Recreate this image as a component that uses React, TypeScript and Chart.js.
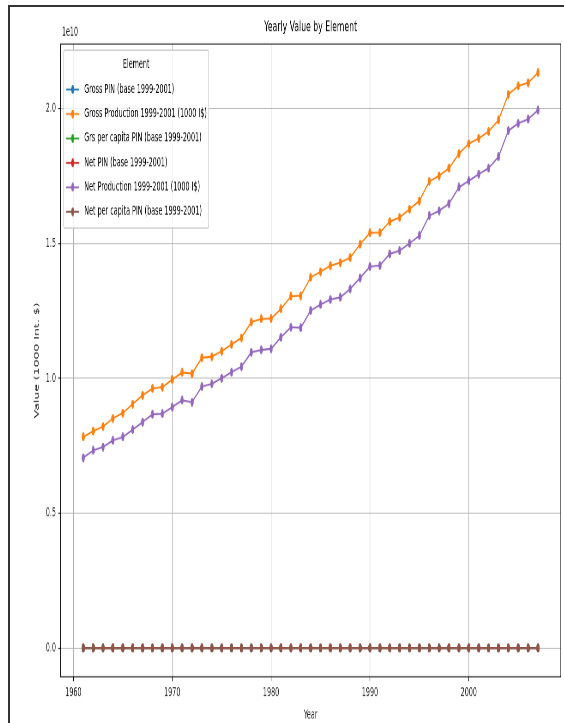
import React, { useEffect, useRef } from 'react';
import { Chart, registerables } from 'chart.js';

Chart.register(...registerables);

// ---- data -------------------------------------------------------------
const YEARS = [
  1961, 1962, 1963, 1964, 1965, 1966, 1967, 1968, 1969, 1970,
  1971, 1972, 1973, 1974, 1975, 1976, 1977, 1978, 1979, 1980,
  1981, 1982, 1983, 1984, 1985, 1986, 1987, 1988, 1989, 1990,
  1991, 1992, 1993, 1994, 1995, 1996, 1997, 1998, 1999, 2000,
  2001, 2002, 2003, 2004, 2005, 2006, 2007,
];

const GROSS_PIN = [
  41.9, 43.2, 44.1, 45.7, 46.8, 48.5, 50.3, 51.6, 51.9, 53.4,
  54.8, 54.6, 57.7, 58.0, 59.0, 60.4, 61.7, 64.8, 65.5, 65.5,
  67.5, 70.0, 70.1, 73.7, 74.9, 76.0, 76.7, 77.6, 80.3, 82.6,
  82.6, 84.8, 85.6, 87.3, 88.9, 92.8, 93.9, 95.4, 98.3, 100.3,
  101.4, 102.7, 105.0, 110.1, 111.8, 112.4, 114.4,
];

const GROSS_PRODUCTION = [
  7.83e9, 8.05e9, 8.22e9, 8.52e9, 8.72e9, 9.05e9, 9.38e9, 9.63e9, 9.68e9, 9.96e9,
  10.22e9, 10.18e9, 10.77e9, 10.81e9, 11.01e9, 11.26e9, 11.51e9, 12.09e9, 12.21e9, 12.22e9,
  12.58e9, 13.05e9, 13.07e9, 13.75e9, 13.96e9, 14.18e9, 14.30e9, 14.48e9, 14.98e9, 15.40e9,
  15.41e9, 15.82e9, 15.97e9, 16.28e9, 16.59e9, 17.31e9, 17.52e9, 17.80e9, 18.34e9, 18.71e9,
  18.91e9, 19.16e9, 19.58e9, 20.54e9, 20.85e9, 20.97e9, 21.34e9,
];

const GRS_PER_CAPITA_PIN = [
  82.0, 82.8, 82.7, 83.8, 84.1, 85.3, 86.6, 87.1, 85.9, 86.6,
  87.1, 85.1, 88.3, 87.0, 87.1, 87.4, 87.5, 90.0, 89.2, 88.1,
  89.1, 90.6, 89.0, 92.0, 91.8, 91.6, 90.8, 90.1, 91.8, 93.0,
  91.7, 92.2, 91.9, 92.3, 92.6, 95.4, 95.2, 95.6, 97.2, 98.3,
  98.1, 98.0, 99.3, 102.8, 103.2, 102.6, 103.5,
];

const NET_PIN = [
  40.7, 42.3, 43.0, 44.4, 45.2, 46.7, 48.4, 50.0, 50.1, 51.6,
  53.0, 52.6, 56.0, 56.5, 57.8, 59.0, 60.2, 63.3, 63.8, 64.0,
  66.5, 68.7, 68.5, 72.2, 73.5, 74.6, 75.1, 76.9, 79.2, 81.6,
  81.9, 84.4, 85.1, 86.6, 88.3, 92.6, 93.6, 95.2, 98.6, 100.0,
  101.4, 102.7, 105.1, 110.7, 112.3, 113.2, 115.1,
];

const NET_PRODUCTION = [
  7.06e9, 7.33e9, 7.46e9, 7.70e9, 7.83e9, 8.10e9, 8.38e9, 8.67e9, 8.69e9, 8.94e9,
  9.19e9, 9.12e9, 9.70e9, 9.80e9, 10.01e9, 10.23e9, 10.44e9, 10.97e9, 11.06e9, 11.10e9,
  11.53e9, 11.90e9, 11.88e9, 12.52e9, 12.74e9, 12.93e9, 13.01e9, 13.32e9, 13.73e9, 14.15e9,
  14.19e9, 14.62e9, 14.74e9, 15.01e9, 15.30e9, 16.04e9, 16.22e9, 16.49e9, 17.09e9, 17.33e9,
  17.58e9, 17.80e9, 18.22e9, 19.19e9, 19.46e9, 19.62e9, 19.95e9,
];

const NET_PER_CAPITA_PIN = [
  80.1, 81.1, 80.7, 81.5, 81.3, 82.2, 83.4, 84.4, 82.9, 83.8,
  84.3, 82.0, 85.7, 84.9, 85.5, 85.5, 85.5, 88.0, 87.0, 86.1,
  87.9, 88.9, 87.0, 90.2, 90.1, 89.9, 88.9, 89.3, 90.5, 91.8,
  91.0, 91.8, 91.4, 91.6, 92.0, 95.2, 94.9, 95.4, 97.5, 98.0,
  98.1, 98.0, 99.4, 103.4, 103.6, 103.3, 104.1,
];

const SERIES_NAMES = [
  'Gross PIN (base 1999-2001)',
  'Gross Production 1999-2001 (1000 I$)',
  'Grs per capita PIN (base 1999-2001)',
  'Net PIN (base 1999-2001)',
  'Net Production 1999-2001 (1000 I$)',
  'Net per capita PIN (base 1999-2001)',
];
const SERIES_VALUES = [
  GROSS_PIN, GROSS_PRODUCTION, GRS_PER_CAPITA_PIN,
  NET_PIN, NET_PRODUCTION, NET_PER_CAPITA_PIN,
];
const COLORS = ['#1f77b4', '#ff7f0e', '#2ca02c', '#d62728', '#9467bd', '#8c564b'];

const X_TICKS = [1960, 1970, 1980, 1990, 2000];
const Y_TICKS = [0, 0.5e10, 1.0e10, 1.5e10, 2.0e10];
const Y_TICK_LABELS = ['0.0', '0.5', '1.0', '1.5', '2.0'];

const TITLE = 'Yearly Value by Element';
const LEGEND_TITLE = 'Element';
const X_TITLE = 'Year';
const Y_TITLE = 'Value (1000 Int. $)';
const Y_OFFSET_LABEL = '1e10';

// ---- drawing constants (canvas units) ---------------------------------
const FONT = 'DejaVu Sans';
const FS = 13.9;       // 10pt
const FS_TITLE = 16.7; // 12pt
const W = 1200;
const H = 800;
const MARK_W = 6.6;
const MARK_H = 9.8;

// Filled oval marker bitmap for one colour.
function makeMarker(color: string): HTMLCanvasElement {
  const c = document.createElement('canvas');
  c.width = Math.ceil(MARK_W);
  c.height = Math.ceil(MARK_H);
  const g = c.getContext('2d')!;
  g.fillStyle = color;
  g.beginPath();
  g.ellipse(c.width / 2, c.height / 2, MARK_W / 2, MARK_H / 2, 0, 0, Math.PI * 2);
  g.fill();
  return c;
}

function makeDecorations(markers: HTMLCanvasElement[]) {
  return {
    id: 'decorations',
    afterDatasetsDraw(chart: any) {
      const { ctx, chartArea: a } = chart;
      ctx.save();
      // axes frame
      ctx.strokeStyle = '#000';
      ctx.lineWidth = 1.1;
      ctx.strokeRect(a.left, a.top, a.right - a.left, a.bottom - a.top);

      // legend box
      const lx = a.left + 6.95;
      const ly = a.top + 6.95;
      const lw = 314;
      const lh = 198.7;
      ctx.beginPath();
      if (ctx.roundRect) ctx.roundRect(lx, ly, lw, lh, 2.8);
      else ctx.rect(lx, ly, lw, lh);
      ctx.fillStyle = 'rgba(255,255,255,0.8)';
      ctx.fill();
      ctx.strokeStyle = '#cccccc';
      ctx.lineWidth = 1.39;
      ctx.stroke();

      ctx.fillStyle = '#000';
      ctx.font = `${FS}px "${FONT}"`;
      ctx.textAlign = 'center';
      ctx.textBaseline = 'middle';
      ctx.fillText(LEGEND_TITLE, lx + lw / 2, ly + 16.6);

      SERIES_NAMES.forEach((name, i) => {
        const y = ly + 44 + i * 27.3;
        const hx0 = lx + 5.6;
        const hx1 = hx0 + 27.8;
        ctx.strokeStyle = COLORS[i];
        ctx.lineWidth = 2.08;
        ctx.beginPath();
        ctx.moveTo(hx0, y);
        ctx.lineTo(hx1, y);
        ctx.stroke();
        const m = markers[i];
        ctx.drawImage(m, (hx0 + hx1) / 2 - m.width / 2, y - m.height / 2);
        ctx.fillStyle = '#000';
        ctx.textAlign = 'left';
        ctx.fillText(name, hx1 + 11.1, y);
      });
      ctx.restore();
    },
    afterDraw(chart: any) {
      const { ctx, chartArea: a } = chart;
      ctx.save();
      ctx.fillStyle = '#000';
      ctx.textBaseline = 'middle';
      ctx.textAlign = 'center';
      ctx.font = `${FS_TITLE}px "${FONT}"`;
      ctx.fillText(TITLE, (a.left + a.right) / 2, 23);
      ctx.textAlign = 'left';
      ctx.font = `${FS}px "${FONT}"`;
      ctx.fillText(Y_OFFSET_LABEL, a.left + 3, 28);
      ctx.restore();
    },
  };
}

export default function App() {
  const canvasRef = useRef<HTMLCanvasElement | null>(null);

  useEffect(() => {
    const canvas = canvasRef.current;
    if (!canvas) return;
    const n = SERIES_NAMES.length;
    const markers = COLORS.map(makeMarker);
    const datasets = SERIES_NAMES.map((name, i) => ({
      label: name,
      data: YEARS.map((yr, k) => ({ x: yr, y: SERIES_VALUES[i][k] })),
      borderColor: COLORS[i],
      backgroundColor: COLORS[i],
      borderWidth: 2.08,
      pointStyle: markers[i],
      pointRadius: 5,
      tension: 0,
      fill: false,
      order: n - 1 - i,
    }));

    const chart = new Chart(canvas, {
      type: 'line',
      data: { datasets },
      plugins: [makeDecorations(markers)],
      options: {
        animation: false,
        responsive: false,
        devicePixelRatio: 1,
        events: [],
        layout: { padding: { top: 41.3, right: 7, bottom: 0, left: 0 } },
        plugins: {
          legend: { display: false },
          title: { display: false },
          tooltip: { enabled: false },
        },
        scales: {
          x: {
            type: 'linear',
            min: 1958.7,
            max: 2009.3,
            afterBuildTicks: (scale: any) => {
              scale.ticks = X_TICKS.map((v) => ({ value: v }));
            },
            afterFit: (scale: any) => {
              scale.height = 51.6;
            },
            ticks: {
              callback: (v: any) => String(v),
              color: '#222',
              font: { family: FONT, size: FS },
              padding: 4.9,
              maxRotation: 0,
              autoSkip: false,
            },
            grid: {
              color: '#b0b0b0',
              lineWidth: 1.1,
              tickColor: '#000',
              tickLength: 4.9,
              tickWidth: 1.1,
            },
            border: { display: true, color: '#000', width: 1.1 },
            title: {
              display: true,
              text: X_TITLE,
              color: '#222',
              font: { family: FONT, size: FS },
              padding: { top: 0, bottom: 0 },
            },
          },
          y: {
            type: 'linear',
            min: -0.1067e10,
            max: 2.2407e10,
            afterBuildTicks: (scale: any) => {
              scale.ticks = Y_TICKS.map((v) => ({ value: v }));
            },
            afterFit: (scale: any) => {
              scale.width = 109.4;
            },
            ticks: {
              callback: (v: any) => Y_TICK_LABELS[Y_TICKS.indexOf(v)] ?? '',
              color: '#222',
              font: { family: FONT, size: FS },
              padding: 4.9,
              autoSkip: false,
            },
            grid: {
              color: '#b0b0b0',
              lineWidth: 1.1,
              tickColor: '#000',
              tickLength: 4.9,
              tickWidth: 1.1,
            },
            border: { display: true, color: '#000', width: 1.1 },
            title: {
              display: true,
              text: Y_TITLE,
              color: '#222',
              font: { family: FONT, size: FS },
              padding: { top: 50.2, bottom: 0 },
            },
          },
        },
      },
    } as any);

    return () => chart.destroy();
  }, []);

  return (
    <div
      style={{
        position: 'fixed',
        left: 0,
        top: 0,
        width: 564,
        height: 723,
        overflow: 'hidden',
        background: '#fff',
      }}
    >
      <div
        style={{
          position: 'absolute',
          left: 8,
          top: 5,
          width: 700,
          height: 800,
          borderLeft: '2px solid #333',
          borderTop: '2px solid #333',
        }}
      />
      <canvas
        ref={canvasRef}
        width={W}
        height={H}
        style={{ position: 'absolute', left: 10, top: 7, width: 554, height: 716 }}
      />
    </div>
  );
}
